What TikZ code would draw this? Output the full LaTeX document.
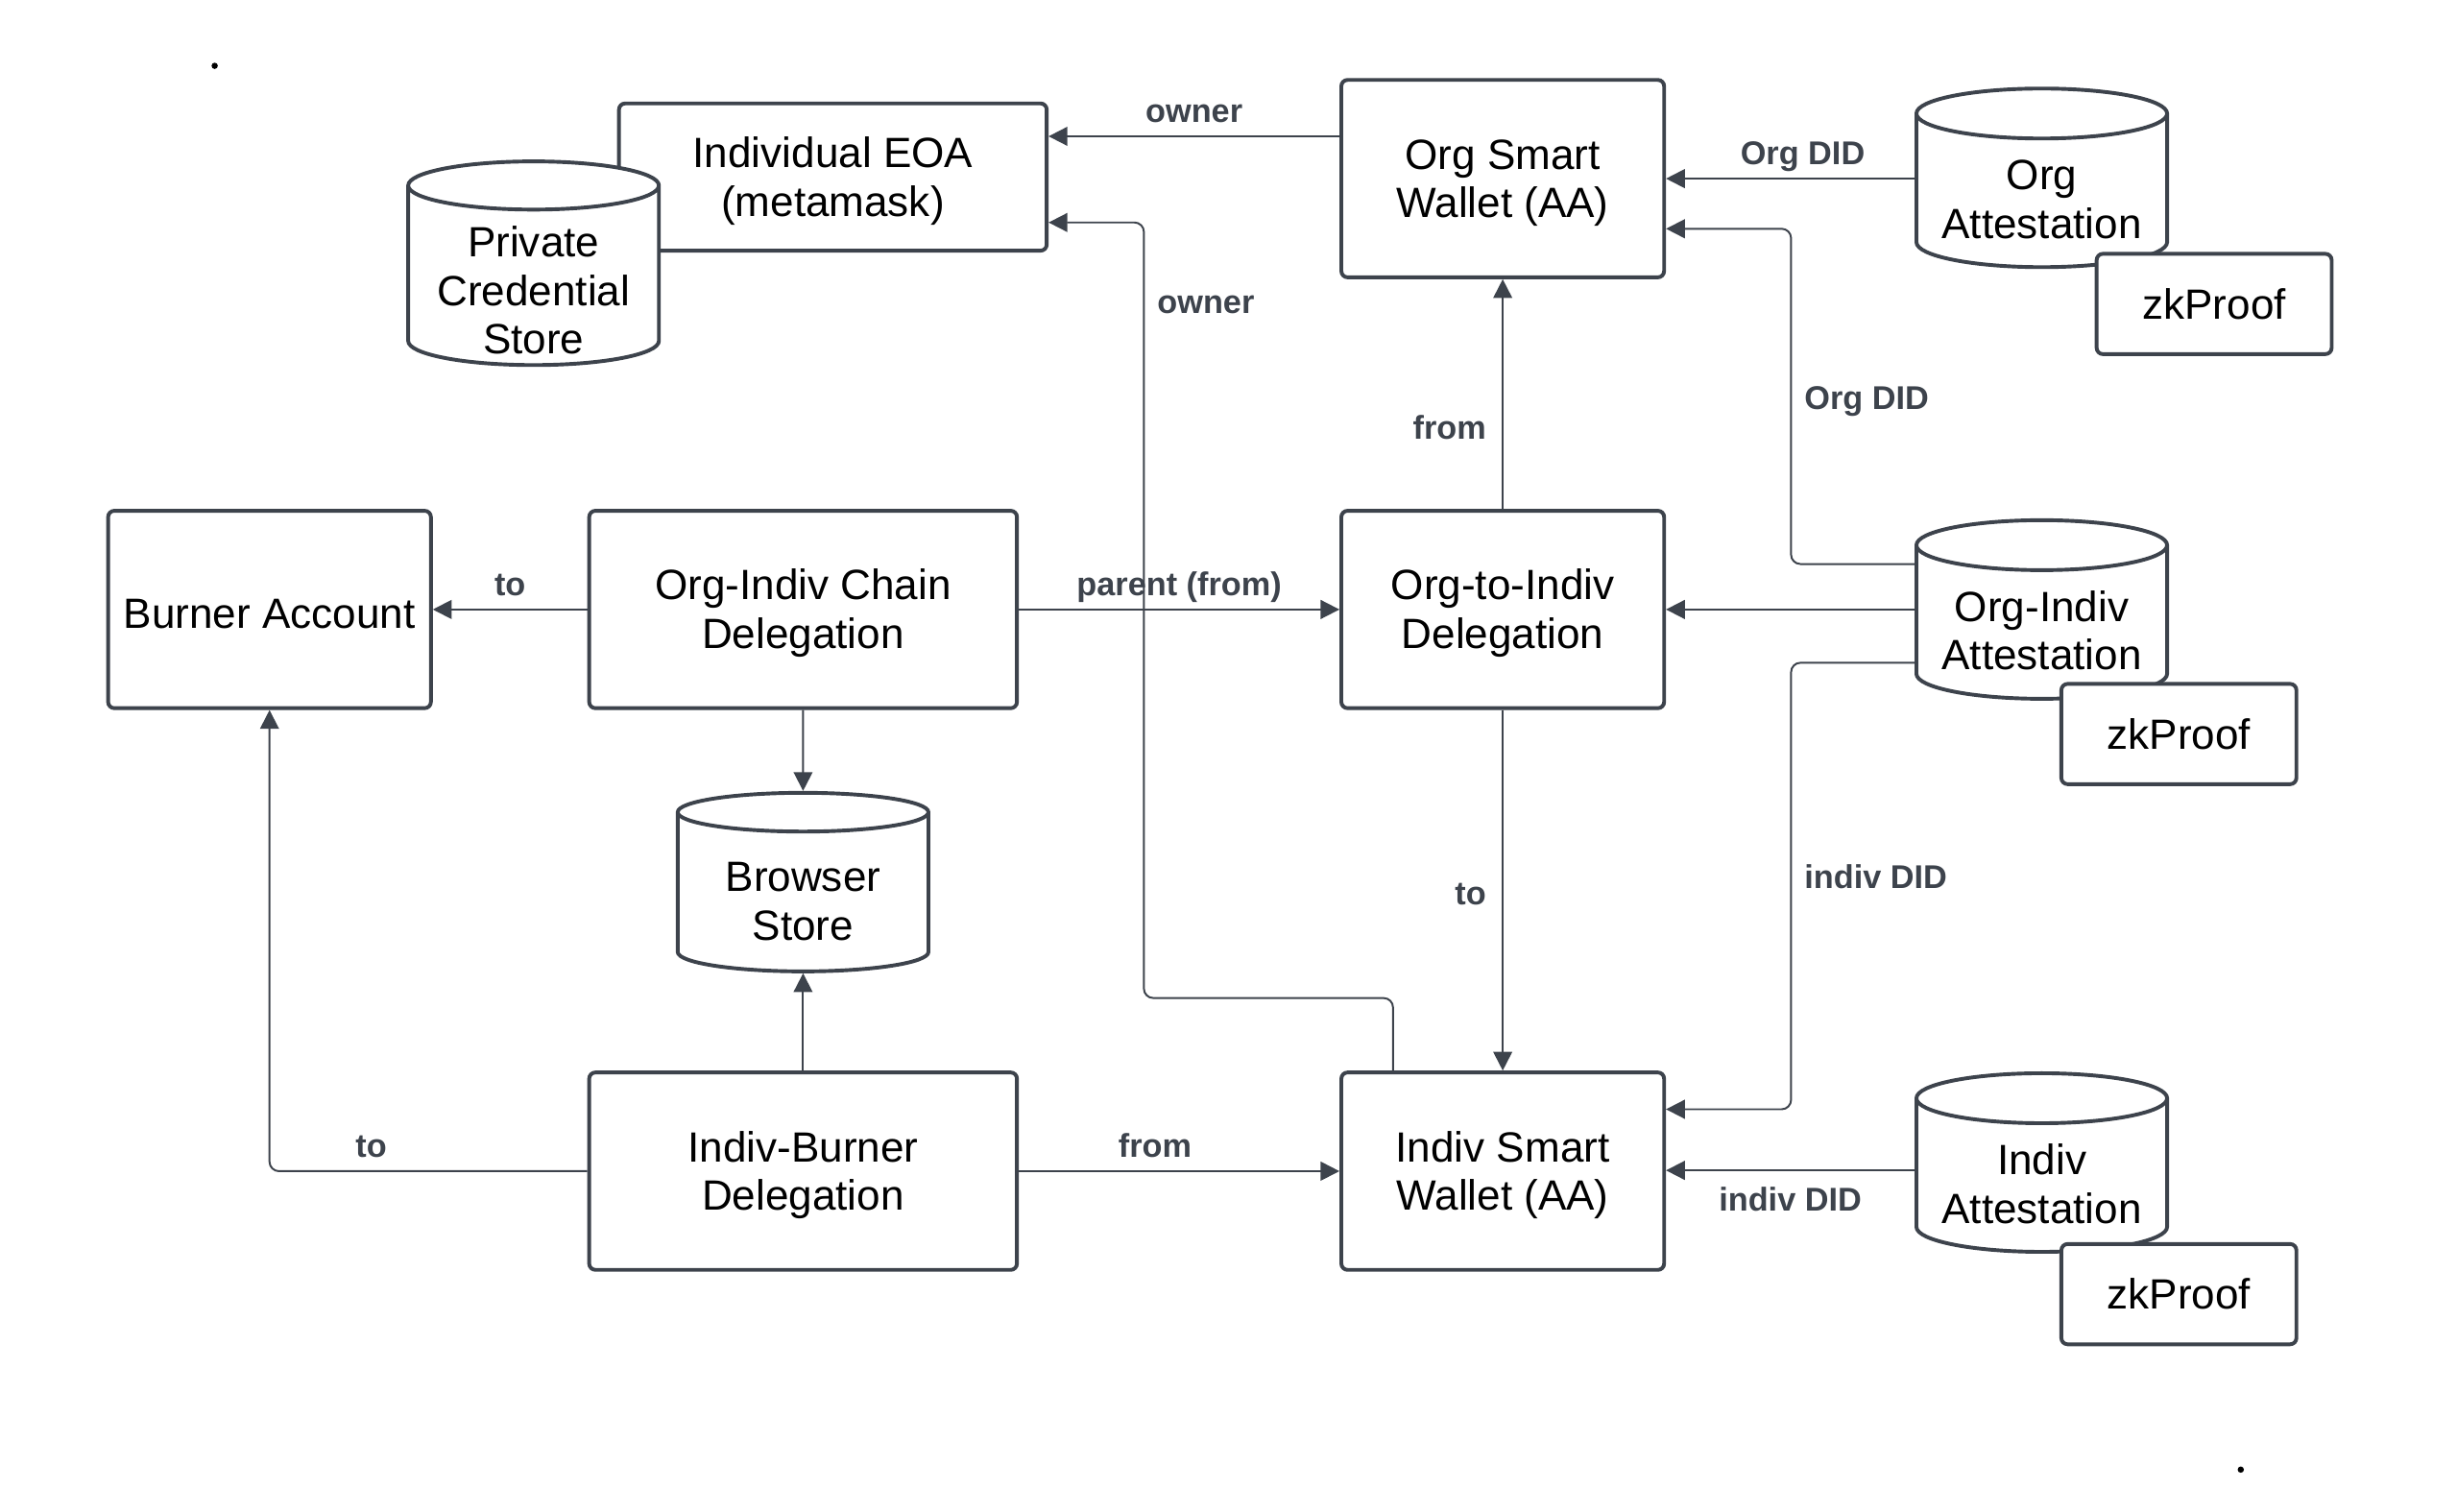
\documentclass[tikz,border=0pt]{standalone}
\usepackage{fontspec}
\setmainfont{Liberation Sans}
\usetikzlibrary{arrows.meta,shapes.geometric}
\definecolor{inkgray}{HTML}{3D434C}

\newcommand{\boxw}{103pt}
\newcommand{\wideboxw}{136.5pt}
\newcommand{\boxh}{63pt}
% invisible strut that pushes a label block down a little
\newcommand{\topgap}[1]{\rule{0pt}{#1}}

\begin{document}
\begin{tikzpicture}[x=0.5pt,y=-0.5pt,
    box/.style={draw=inkgray,line width=1.2pt,rounded corners=2pt,fill=white,
      align=center,inner sep=0pt,font=\fontsize{13.5}{15.5}\selectfont},
    store/.style={cylinder,shape border rotate=90,aspect=0.25,draw=inkgray,
      line width=1.2pt,fill=white,align=center,inner sep=0pt,
      minimum width=80pt,minimum height=57pt,anchor=shape center,
      font=\fontsize{13.5}{15.5}\selectfont},
    conn/.style={draw=inkgray,line width=0.6pt,rounded corners=3pt,
      -{Triangle[length=6pt,width=6pt]}},
    lbl/.style={font=\fontsize{10.5}{12}\selectfont\bfseries,text=inkgray,
      text depth=2.2pt}]
  \useasboundingbox (0,0) rectangle (1568,965);

  % top row
  \node[box,minimum width=\wideboxw,minimum height=47pt] (eoa) at (531.5,113)
    {\topgap{12.2pt}Individual EOA\\(metamask)};
  \node[store,minimum height=65pt,inner ysep=-6pt] (pcs) at (340.5,168)
    {\topgap{18.7pt}Private\\Credential\\Store};
  \node[box,minimum width=\boxw,minimum height=\boxh] (osw) at (959,114)
    {\topgap{12.2pt}Org Smart\\Wallet (AA)};
  \node[store] (oatt) at (1303,113.5) {\topgap{14.7pt}Org\\Attestation};
  \node[box,minimum width=75pt,minimum height=32pt] (zka) at (1413,194) {zkProof};

  % middle row
  \node[box,minimum width=\boxw,minimum height=\boxh] (burner) at (172,389)
    {\topgap{12.2pt}Burner Account};
  \node[box,minimum width=\wideboxw,minimum height=\boxh] (oichain) at (512.5,389)
    {\topgap{12.2pt}Org-Indiv Chain\\Delegation};
  \node[box,minimum width=\boxw,minimum height=\boxh] (otoi) at (959,389)
    {\topgap{12.2pt}Org-to-Indiv\\Delegation};
  \node[store] (oiatt) at (1303,389) {\topgap{14.7pt}Org-Indiv\\Attestation};
  \node[box,minimum width=75pt,minimum height=32pt] (zkb) at (1390.5,468.5) {zkProof};
  \node[store] (bstore) at (512.5,563) {\topgap{14.7pt}Browser\\Store};

  % bottom row
  \node[box,minimum width=\wideboxw,minimum height=\boxh] (ibdel) at (512.5,747.5)
    {\topgap{12.2pt}Indiv-Burner\\Delegation};
  \node[box,minimum width=\boxw,minimum height=\boxh] (isw) at (959,747.5)
    {\topgap{12.2pt}Indiv Smart\\Wallet (AA)};
  \node[store] (iatt) at (1303,742) {\topgap{14.7pt}Indiv\\Attestation};
  \node[box,minimum width=75pt,minimum height=32pt] (zkc) at (1390.5,826) {zkProof};

  % connectors
  \draw[conn] (osw.west |- 0,87) -- node[lbl,above,inner sep=2pt]{owner} (eoa.east |- 0,87);
  \draw[conn] (isw.north -| 889,0) |- (730,637)
    |- node[lbl,right,pos=0.445,inner sep=4pt]{owner} (eoa.east |- 0,142);
  \draw[conn] (oatt.west |- 0,114) -- node[lbl,above,pos=0.45,inner sep=2pt]{Org DID} (osw.east |- 0,114);
  \draw[conn] (oiatt.west |- 0,360) -| node[lbl,right,pos=0.743,inner sep=4pt]{Org DID} (1143,146)
    -- (osw.east |- 0,146);
  \draw[conn] (oiatt.west |- 0,389) -- (otoi.east |- 0,389);
  \draw[conn] (oiatt.west |- 0,423) -| node[lbl,right,pos=0.743,inner sep=4pt]{indiv DID} (1143,708)
    -- (isw.east |- 0,708);
  \draw[conn] (iatt.west |- 0,747) -- node[lbl,below,inner sep=5pt]{indiv DID} (isw.east |- 0,747);
  \draw[conn] (otoi.north) -- node[lbl,left,pos=0.34,inner sep=5pt]{from} (osw.south);
  \draw[conn] (otoi.south) -- node[lbl,left,pos=0.52,inner sep=5pt]{to} (isw.north);
  \draw[conn] (oichain.east) -- node[lbl,above,inner sep=2pt]{parent (from)} (otoi.west);
  \draw[conn] (oichain.west) -- node[lbl,above,inner sep=2pt]{to} (burner.east);
  \draw[conn] (oichain.south) -- (bstore.north);
  \draw[conn] (ibdel.north) -- (bstore.south);
  \draw[conn] (ibdel.west) -| node[lbl,above,pos=0.34,inner sep=2pt]{to} (burner.south);
  \draw[conn] (ibdel.east) -- node[lbl,above,pos=0.425,inner sep=2pt]{from} (isw.west);

  % stray dots
  \fill (137,42) circle (1pt);
  \fill (1430,938) circle (1pt);
\end{tikzpicture}
\end{document}
